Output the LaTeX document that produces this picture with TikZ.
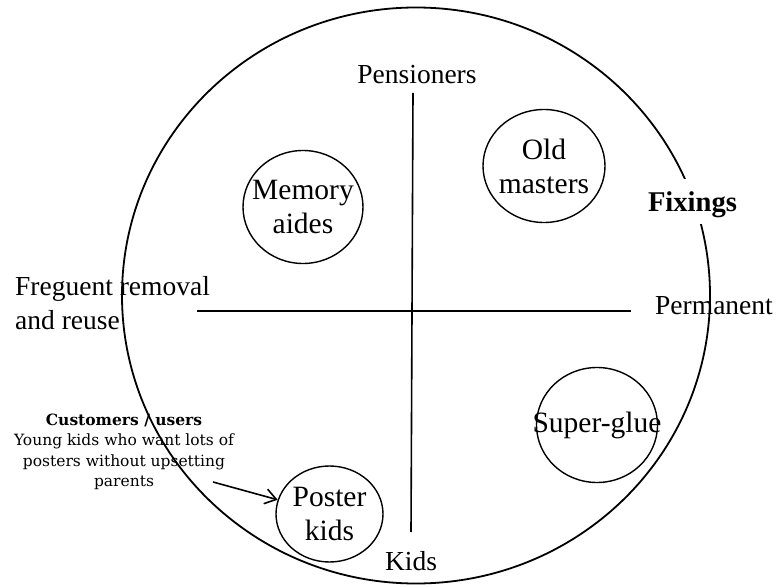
\documentclass[tikz,border=0pt]{standalone}
\usepackage{fontspec}
\setmainfont{Liberation Serif}
\newfontfamily\notefont{DejaVu Serif}
\usetikzlibrary{shapes,arrows.meta,positioning}

\begin{document}
\begin{tikzpicture}[
    x=1pt, y=1pt,
    bubble/.style={ellipse, draw, line width=1.4pt, minimum width=120pt, minimum height=113pt, inner sep=0pt},
    bubbletext/.style={align=center, font=\fontsize{29.5}{34}\selectfont, inner sep=0pt},
    axislabel/.style={font=\fontsize{27.5}{34}\selectfont, inner sep=0pt},
    line/.style={draw, line width=1.6pt},
    pointer/.style={draw, line width=1.6pt, -{Straight Barb[length=11pt,width=15pt]}}
]
    \useasboundingbox (0,0) rectangle (779,587);

    % Outer circle
    \draw[line width=1.8pt] (416,291.5) ellipse [x radius=294pt, y radius=288pt];

    % Axis labels
    \node[axislabel] (pension) at (417,512) {Pensioners};
    \node[axislabel] (kids) at (411,26) {Kids};
    \node[axislabel, align=left, anchor=west] (reuse) at (15,283.5) {Freguent removal\\and reuse};
    \node[axislabel, anchor=west] (perm) at (655,281) {Permanent};
    \node[font=\bfseries\fontsize{28.6}{34}\selectfont, fill=white, inner xsep=3pt, inner ysep=0pt,
          text height=33pt, text depth=12pt, anchor=base] (fixings) at (692.5,375) {Fixings};

    % Axes
    \coordinate (westend) at (197,276);
    \coordinate (eastend) at (631,276);
    \coordinate (northend) at (413,494);
    \coordinate (southend) at (411,55);
    \path [line] (westend) -- (eastend);
    \path [line] (northend) -- (southend);

    % Segments
    \node[bubble, label={[bubbletext]center:Memory\\aides}] (memory) at (303,380) {};
    \node[bubble, minimum width=122pt, label={[bubbletext]center:Old\\masters}] (masters) at (544,421) {};
    \node[bubble, minimum width=121pt, minimum height=115pt, label={[bubbletext]center:Super-glue}] (glue) at (597,162) {};
    \node[bubble, minimum width=107pt, minimum height=96pt, label={[bubbletext]center:Poster\\kids}] (poster) at (329.5,73) {};

    % Customers
    \node[align=center, font=\notefont\fontsize{15.5}{20.3}\selectfont, inner sep=0pt] (users) at (124,135)
        {\textbf{Customers / users}\\Young kids who want lots of\\posters without upsetting\\parents};
    \coordinate (usersarrow) at (213,105);
    \path [pointer] (usersarrow) -- (poster);

\end{tikzpicture}
\end{document}
